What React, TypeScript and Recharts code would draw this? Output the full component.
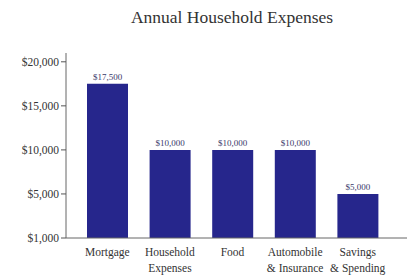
import { BarChart, Bar, XAxis, YAxis, LabelList } from "recharts";

const categories = ["Mortgage", "Household\nExpenses", "Food", "Automobile\n& Insurance", "Savings\n& Spending"];
const amounts = [17500, 10000, 10000, 10000, 5000];
const valueLabels = ["$17,500", "$10,000", "$10,000", "$10,000", "$5,000"];
const yTicks = [0, 5000, 10000, 15000, 20000];
const yTickLabels = ["$1,000", "$5,000", "$10,000", "$15,000", "$20,000"];

const data = categories.map((name, i) => ({ name, amount: amounts[i], label: valueLabels[i] }));

const font = "'Liberation Serif', 'Times New Roman', serif";

function CategoryTick(props: any) {
  const { x, y, payload } = props;
  const lines = String(payload.value).split("\n");
  return (
    <g transform={`translate(${x},${y})`}>
      {lines.map((line, i) => (
        <text key={i} x={0} y={10 + i * 16} textAnchor="middle" fontSize={11.5} fill="#333" fontFamily={font}>
          {line}
        </text>
      ))}
    </g>
  );
}

export default function App() {
  return (
    <div style={{ position: "absolute", left: 0, top: 0, width: 407, height: 276, background: "#fff" }}>
      <div
        style={{
          position: "absolute",
          left: 66,
          width: 332,
          top: 7,
          textAlign: "center",
          fontFamily: font,
          fontSize: 17.5,
          color: "#333",
        }}
      >
        Annual Household Expenses
      </div>
      <BarChart
        width={407}
        height={276}
        data={data}
        margin={{ top: 53, right: 0, bottom: 0, left: 0 }}
      >
        <XAxis
          dataKey="name"
          interval={0}
          height={38}
          tickLine={false}
          axisLine={{ stroke: "#666" }}
          padding={{ left: 10, right: 18 }}
          tick={<CategoryTick />}
        />
        <YAxis
          width={66}
          domain={[0, 21000]}
          ticks={yTicks}
          interval={0}
          tickSize={5}
          tickLine={{ stroke: "#555" }}
          axisLine={{ stroke: "#666" }}
          tickFormatter={(v: number) => yTickLabels[yTicks.indexOf(v)]}
          tick={{ fontSize: 11.5, fill: "#333", fontFamily: font }}
        />
        <Bar dataKey="amount" fill="#26268c" barSize={41} isAnimationActive={false}>
          <LabelList dataKey="label" position="top" offset={4} fontSize={9} fill="#3a3a6a" fontFamily={font} />
        </Bar>
      </BarChart>
    </div>
  );
}
